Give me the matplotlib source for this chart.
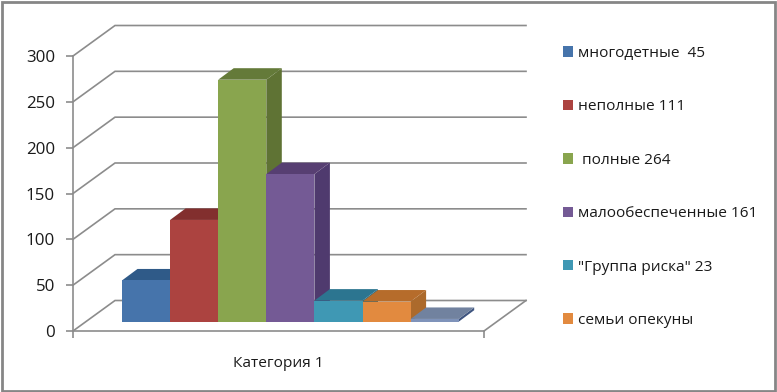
import matplotlib
matplotlib.use("Agg")
import matplotlib.pyplot as plt
from matplotlib.patches import Polygon, Patch, Rectangle

plt.rcParams['font.family'] = ['Open Sans', 'DejaVu Sans']

labels = ['многодетные  45', 'неполные 111', ' полные 264', 'малообеспеченные 161',
          '"Группа риска" 23', 'семьи опекуны']
values = [45, 111, 264, 161, 23, 22, 3]
front_colors = ['#4674ab', '#ac4340', '#89a54e', '#745a95', '#3f98b4', '#e28a3f', '#7f93ba']
top_colors = ['#2f5a88', '#822f2e', '#647a39', '#573f72', '#2c7590', '#b66c2b', '#71829f']
side_colors = ['#2b5280', '#7a2c2b', '#5f7334', '#4f3a6e', '#286a82', '#ac6a2c', '#3f5580']
yticks = [0, 50, 100, 150, 200, 250, 300]
category = 'Категория 1'

W, H = 777, 392
fig = plt.figure(figsize=(W / 100, H / 100), dpi=100, facecolor='white')
x0, x1, ytop, ybot = 73, 484, 56, 331
ax = fig.add_axes([x0 / W, 1 - ybot / H, (x1 - x0) / W, (ybot - ytop) / H])
ax.patch.set_visible(False)

bar_px = 48.1
first_px = 122
ax.set_xlim((x0 - first_px) / bar_px, (x1 - first_px) / bar_px)
ax.set_ylim(0, 300)
upx = 300 / (ybot - ytop)

GRID = '#8c8c8c'
wall_dx, wall_dy = 42 / bar_px, 30.5 * upx
bar_dx, bar_dy = 15.5 / bar_px, 11.5 * upx
base = 9.3 * upx
xl, xr = ax.get_xlim()

for v in yticks:
    ax.plot([xl, xl + wall_dx, xr + wall_dx], [v, v + wall_dy, v + wall_dy],
            color=GRID, lw=1.2, clip_on=False, zorder=1, solid_joinstyle='miter')
ax.plot([xr, xr + wall_dx], [0, wall_dy], color=GRID, lw=1.2, clip_on=False, zorder=1)

for i, v in enumerate(values):
    l, r, b, t = i, i + 1, base, base + v
    ax.add_patch(Polygon([(r, b), (r + bar_dx, b + bar_dy), (r + bar_dx, t + bar_dy), (r, t)],
                         fc=side_colors[i], ec='none', clip_on=False, zorder=2 + i))
    ax.add_patch(Polygon([(l, t), (r, t), (r + bar_dx, t + bar_dy), (l + bar_dx, t + bar_dy)],
                         fc=top_colors[i], ec='none', clip_on=False, zorder=2 + i))
    ax.add_patch(Rectangle((l, b), 1, v, fc=front_colors[i], ec='none', clip_on=False, zorder=2 + i))

for s in ('top', 'right'):
    ax.spines[s].set_visible(False)
for s in ('left', 'bottom'):
    ax.spines[s].set_color(GRID)
    ax.spines[s].set_linewidth(1.2)
ax.set_yticks(yticks)
ax.set_xticks([xl, xr], minor=True)
ax.set_xticks([(xl + xr) / 2 - 0.01])
ax.set_xticklabels([category], fontsize=11.1, color='#1a1a1a')
ax.tick_params(axis='x', which='major', length=0, pad=18)
ax.tick_params(axis='x', which='minor', length=5, color=GRID, width=1.2)
ax.tick_params(axis='y', length=5, color=GRID, width=1.2, labelsize=12.2, labelcolor='#1a1a1a', pad=8)
for lab in ax.get_yticklabels():
    lab.set_verticalalignment('center_baseline')

handles = [Patch(fc=c, ec='none') for c in front_colors[:6]]
fig.legend(handles, labels, loc='upper left', bbox_to_anchor=(563 / W, 1 - 46 / H),
           bbox_transform=fig.transFigure, frameon=False, fontsize=11.1, labelcolor='#1a1a1a',
           labelspacing=2.49, handlelength=0.65, handleheight=0.65, handletextpad=0.33,
           borderpad=0, borderaxespad=0)

fig.add_artist(Rectangle((2 / W, 1 / H), (775 - 2) / W, (390 - 1) / H, transform=fig.transFigure,
                         fc='none', ec='#868686', lw=2))
fig.savefig('out.png', dpi=100)
